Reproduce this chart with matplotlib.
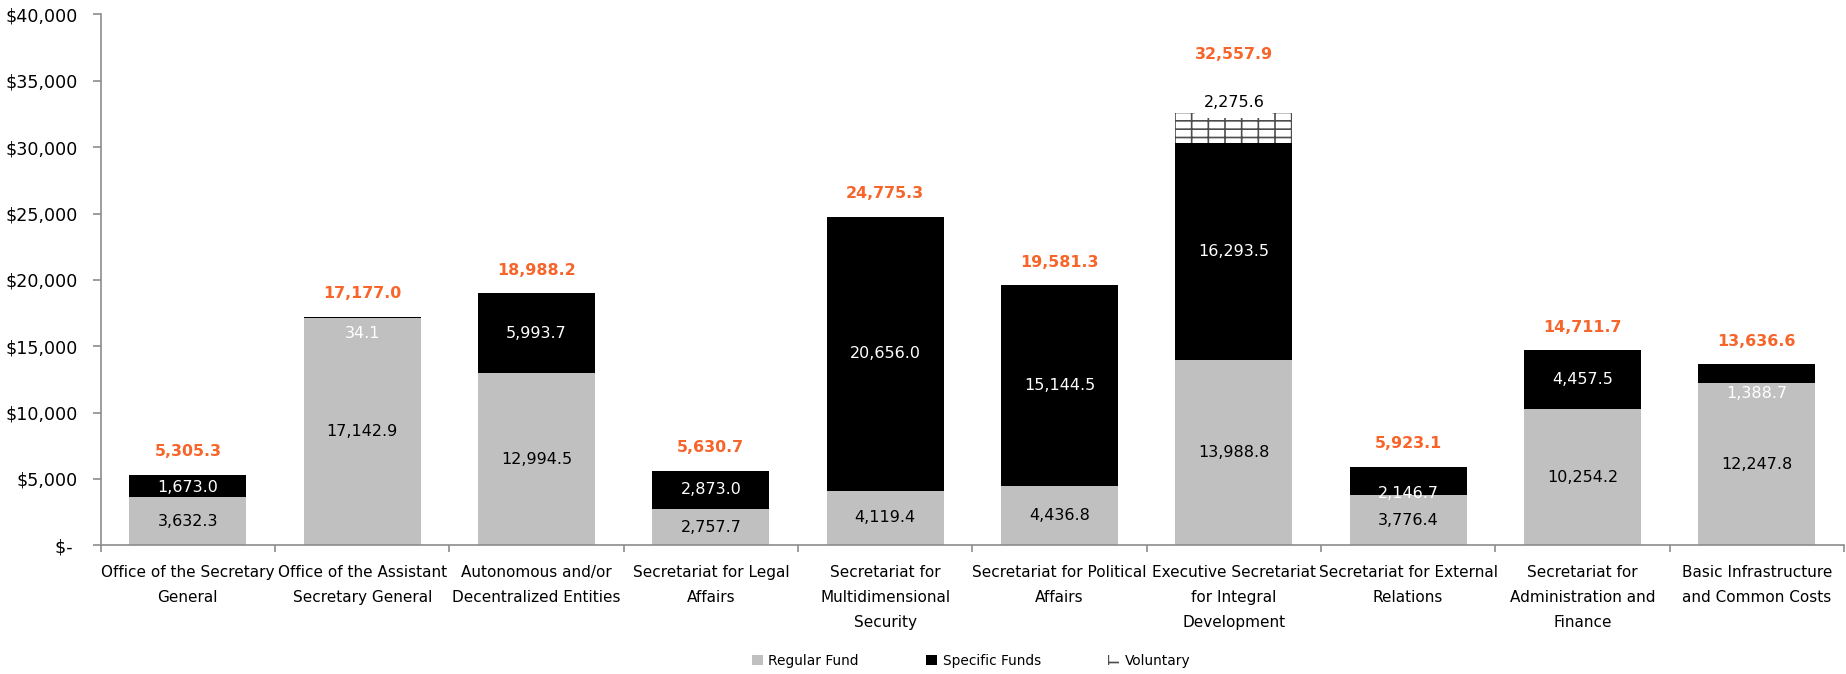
"""Budget by area: regular, specific and voluntary funds (stacked bars)."""

import matplotlib
matplotlib.use("Agg")
import matplotlib.pyplot as plt  # noqa: E402
import matplotlib.ticker as mticker  # noqa: E402
import numpy as np  # noqa: E402
from matplotlib.patches import Patch  # noqa: E402

plt.rcParams["font.family"] = "DejaVu Sans"
plt.rcParams["hatch.linewidth"] = 1.2
plt.rcParams["hatch.color"] = "#4d4d4d"

categories = [
    "Office of the Secretary\nGeneral",
    "Office of the Assistant\nSecretary General",
    "Autonomous and/or\nDecentralized Entities",
    "Secretariat for Legal\nAffairs",
    "Secretariat for\nMultidimensional\nSecurity",
    "Secretariat for Political\nAffairs",
    "Executive Secretariat\nfor Integral\nDevelopment",
    "Secretariat for External\nRelations",
    "Secretariat for\nAdministration and\nFinance",
    "Basic Infrastructure\nand Common Costs",
]
regular = [3632.3, 17142.9, 12994.5, 2757.7, 4119.4, 4436.8, 13988.8, 3776.4, 10254.2, 12247.8]
specific = [1673.0, 34.1, 5993.7, 2873.0, 20656.0, 15144.5, 16293.5, 2146.7, 4457.5, 1388.7]
voluntary = [0, 0, 0, 0, 0, 0, 2275.6, 0, 0, 0]
totals = [5305.3, 17177.0, 18988.2, 5630.7, 24775.3, 19581.3, 32557.9, 5923.1, 14711.7, 13636.6]

GRAY = "#c0c0c0"
ORANGE = "#f7652a"
AXIS = "#8c8c8c"

# label nudges (pixels) where the segment is too thin for a centred label
specific_nudge = [-2, -16, 0, 0, 0, 0, 0, -13, 0, -20]
total_nudge = [23, 24, 23, 23, 23, 23, 59, 23, 23, 23]

x = np.arange(len(categories))
width = 0.67
regular = np.array(regular)
specific = np.array(specific)
voluntary = np.array(voluntary)

fig = plt.figure(figsize=(18.46, 6.74), dpi=100)
ax = fig.add_axes([0.05455, 0.19095, 0.94437, 0.78754])

ax.bar(x, regular, width, color=GRAY, linewidth=0, label="Regular Fund")
ax.bar(x, specific, width, bottom=regular, color="black", linewidth=0,
       label="Specific Funds")
ax.bar(x, voluntary, width, bottom=regular + specific, facecolor="white",
       edgecolor="#4d4d4d", hatch="--|", linewidth=0, label="Voluntary")

for i in range(len(x)):
    ax.annotate(f"{regular[i]:,.1f}", (x[i], regular[i] / 2),
                ha="center", va="center", fontsize=11.5, color="black")
    ax.annotate(f"{specific[i]:,.1f}", (x[i], regular[i] + specific[i] / 2),
                xytext=(0, specific_nudge[i]), textcoords="offset pixels",
                ha="center", va="center", fontsize=11.5, color="white")
    top = regular[i] + specific[i] + voluntary[i]
    if voluntary[i] > 0:
        ax.annotate(f"{voluntary[i]:,.1f}", (x[i], top),
                    xytext=(0, 11), textcoords="offset pixels",
                    ha="center", va="center", fontsize=11.5, color="black",
                    bbox=dict(boxstyle="square,pad=0.5", fc="white", ec="none"))
    ax.annotate(f"{totals[i]:,.1f}", (x[i], top),
                xytext=(0, total_nudge[i]), textcoords="offset pixels",
                ha="center", va="center", fontsize=11.4, fontweight="bold",
                color=ORANGE)

ax.set_xlim(-0.5, len(x) - 0.5)
ax.set_ylim(0, 40000)
ax.yaxis.set_major_locator(mticker.MultipleLocator(5000))
ax.yaxis.set_major_formatter(
    mticker.FuncFormatter(lambda v, _: "$- " if v == 0 else f"${v:,.0f}")
)

ax.set_xticks(x)
ax.set_xticklabels(categories, fontsize=11, linespacing=1.85)
ax.set_xticks(np.arange(len(x) + 1) - 0.5, minor=True)
ax.tick_params(axis="x", which="major", length=0, pad=14)
ax.tick_params(axis="x", which="minor", length=5, color=AXIS, width=1.2,
               direction="out")
ax.tick_params(axis="y", length=6, color=AXIS, width=1.2, pad=10.5,
               labelsize=12.6)

for side in ("top", "right"):
    ax.spines[side].set_visible(False)
for side in ("left", "bottom"):
    ax.spines[side].set_color(AXIS)
    ax.spines[side].set_linewidth(1.2)

handles = [
    Patch(facecolor=GRAY, label="Regular Fund"),
    Patch(facecolor="black", label="Specific Funds"),
    Patch(facecolor="white", edgecolor="#4d4d4d", hatch="--|", linewidth=0,
          label="Voluntary"),
]
fig.legend(handles=handles, loc="center", bbox_to_anchor=(0.526, 0.0193),
           ncol=3, frameon=False, fontsize=9.9, handlelength=0.8,
           handleheight=0.8, handletextpad=0.4, columnspacing=4.9)

fig.savefig("out.png", dpi=100)
plt.close(fig)
